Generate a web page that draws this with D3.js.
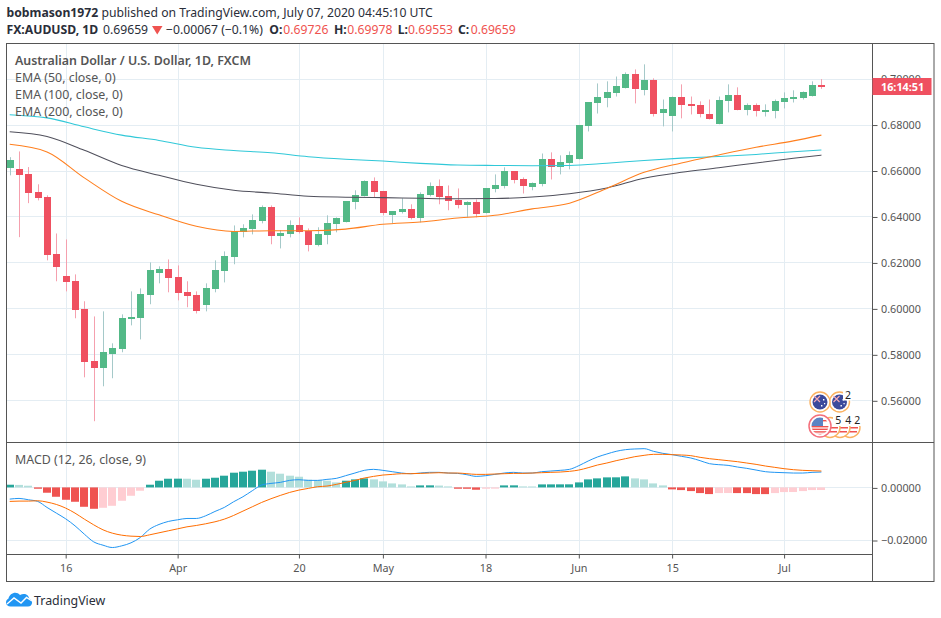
<!DOCTYPE html>
<html><head><meta charset="utf-8">
<script src="https://cdn.jsdelivr.net/npm/d3@7/dist/d3.min.js"></script>
<style>
html,body{margin:0;padding:0;background:#fff}
svg{display:block}
text{font-family:"Noto Sans",sans-serif}
</style></head><body>
<div id="chart"></div>
<script>
const opens=[0.6611,0.6605,0.6583,0.6505,0.6483,0.6235,0.6139,0.6118,0.5996,0.5770,
0.5739,0.5800,0.5822,0.5952,0.5957,0.6057,0.6152,0.6170,0.6135,0.6070,
0.6057,0.6013,0.6083,0.6161,0.6222,0.6331,0.6344,0.6379,0.6440,0.6313,
0.6322,0.6361,0.6335,0.6274,0.6318,0.6366,0.6374,0.6461,0.6487,0.6553,
0.6509,0.6405,0.6418,0.6431,0.6392,0.6492,0.6531,0.6487,0.6470,0.6448,
0.6461,0.6413,0.6518,0.6531,0.6596,0.6561,0.6527,0.6540,0.6648,0.6614,
0.6631,0.6648,0.6792,0.6892,0.6914,0.6935,0.6957,0.7018,0.6953,0.6996,
0.6848,0.6835,0.6918,0.6888,0.6883,0.6848,0.6801,0.6901,0.6927,0.6862,
0.6883,0.6853,0.6857,0.6896,0.6909,0.6914,0.6922,0.69726];
const highs=[0.6658,0.6683,0.6615,0.6540,0.6492,0.6326,0.6300,0.6148,0.6031,0.5965,
0.5987,0.5848,0.5974,0.6074,0.6087,0.6200,0.6183,0.6213,0.6187,0.6118,
0.6074,0.6109,0.6209,0.6248,0.6361,0.6366,0.6409,0.6448,0.6448,0.6340,
0.6383,0.6396,0.6348,0.6353,0.6405,0.6396,0.6466,0.6514,0.6557,0.6570,
0.6509,0.6422,0.6479,0.6453,0.6505,0.6548,0.6561,0.6535,0.6522,0.6466,
0.6474,0.6522,0.6583,0.6614,0.6596,0.6570,0.6548,0.6674,0.6679,0.6666,
0.6683,0.6796,0.6896,0.6979,0.6988,0.7009,0.7027,0.7040,0.7062,0.7001,
0.6909,0.6922,0.6975,0.6922,0.6901,0.6909,0.6922,0.6975,0.6962,0.6892,
0.6892,0.6888,0.6909,0.6940,0.6949,0.6944,0.6988,0.69978];
const lows=[0.6579,0.6310,0.6458,0.6470,0.6209,0.6118,0.6074,0.5957,0.5700,0.5509,
0.5661,0.5696,0.5809,0.5926,0.5865,0.6018,0.6109,0.6070,0.6035,0.6005,
0.5978,0.5987,0.6070,0.6113,0.6192,0.6309,0.6322,0.6370,0.6279,0.6261,
0.6309,0.6326,0.6248,0.6270,0.6279,0.6331,0.6374,0.6431,0.6487,0.6483,
0.6405,0.6370,0.6413,0.6387,0.6374,0.6487,0.6453,0.6427,0.6435,0.6396,
0.6396,0.6413,0.6505,0.6522,0.6544,0.6500,0.6514,0.6531,0.6561,0.6583,
0.6605,0.6648,0.6770,0.6848,0.6875,0.6922,0.6957,0.6892,0.6927,0.6835,
0.6792,0.6770,0.6827,0.6844,0.6831,0.6822,0.6801,0.6853,0.6862,0.6840,
0.6835,0.6835,0.6827,0.6870,0.6896,0.6909,0.6922,0.69553];
const closes=[0.6644,0.6579,0.6502,0.6479,0.6231,0.6179,0.6113,0.5992,0.5765,0.5739,
0.5809,0.5826,0.5957,0.5961,0.6061,0.6166,0.6170,0.6131,0.6065,0.6052,
0.5987,0.6087,0.6166,0.6226,0.6335,0.6348,0.6383,0.6440,0.6313,0.6326,
0.6361,0.6331,0.6274,0.6322,0.6370,0.6392,0.6466,0.6492,0.6553,0.6505,
0.6413,0.6422,0.6431,0.6392,0.6496,0.6531,0.6483,0.6466,0.6448,0.6461,
0.6409,0.6522,0.6535,0.6596,0.6557,0.6531,0.6544,0.6648,0.6614,0.6635,
0.6666,0.6796,0.6896,0.6918,0.6940,0.6966,0.7018,0.6953,0.6996,0.6848,
0.6866,0.6918,0.6883,0.6879,0.6844,0.6827,0.6905,0.6927,0.6862,0.6883,
0.6857,0.6862,0.6901,0.6914,0.6918,0.6940,0.6970,0.69659];

const emaBars=[0,4,8,12,16,20,24,28,32,36,40,44,48,52,56,60,64,68,72,76,80,84,87];
const ema200=[0.6843,0.6829,0.6790,0.6754,0.6731,0.6701,0.6687,0.6677,0.6660,0.6649,0.6641,0.6631,0.6624,0.6622,0.6621,0.6622,0.6632,0.6644,0.6654,0.6661,0.6670,0.6682,0.6689];
const ema100=[0.6769,0.6748,0.6688,0.6622,0.6579,0.6540,0.6514,0.6502,0.6488,0.6484,0.6482,0.6479,0.6477,0.6478,0.6485,0.6499,0.6524,0.6566,0.6592,0.6612,0.6633,0.6653,0.6667];
const ema50=[0.6714,0.6681,0.6568,0.6466,0.6407,0.6357,0.6335,0.6338,0.6338,0.6345,0.6366,0.6376,0.6393,0.6405,0.6433,0.6458,0.6522,0.6592,0.6633,0.6668,0.6701,0.6729,0.6754];

const macdHist=[102,95,64,-51,-203,-356,-470,-546,-737,-813,-775,-699,-508,-318,-127,102,254,330,332,330,292,330,368,445,559,597,635,673,597,521,445,406,292,279,254,190,254,305,343,305,229,152,114,38,76,78,70,38,-51,-52,-89,-51,-48,76,78,38,36,114,115,116,117,190,305,343,381,383,419,343,305,152,76,-76,-102,-140,-216,-254,-216,-214,-216,-217,-254,-255,-216,-178,-176,-140,-102,-100].map(v=>v/1e5);
const macdLine=[-445,-419,-470,-533,-762,-978,-1194,-1461,-1778,-2070,-2197,-2286,-2223,-2108,-1905,-1588,-1410,-1295,-1232,-1181,-1181,-1080,-914,-762,-546,-356,-127,89,152,191,267,292,267,267,305,343,445,546,648,686,648,597,546,521,546,572,572,546,533,483,419,445,495,546,572,546,546,597,622,648,686,826,1003,1156,1270,1372,1435,1461,1473,1372,1295,1245,1181,1118,1016,902,864,838,775,724,660,597,572,559,546,546,572,584].map(v=>v/1e5);
const signalLine=[-533,-521,-521,-508,-559,-648,-787,-978,-1207,-1422,-1613,-1740,-1816,-1854,-1867,-1803,-1727,-1651,-1575,-1499,-1448,-1384,-1308,-1207,-1067,-902,-737,-572,-432,-305,-191,-102,-38,25,51,114,191,267,356,419,470,495,521,521,533,546,559,546,546,521,495,495,508,521,533,533,546,559,572,584,610,660,749,851,927,1016,1092,1168,1219,1257,1257,1245,1232,1207,1143,1092,1054,1016,978,927,876,813,762,711,673,648,635,622].map(v=>v/1e5);

const timeTickBars=[6,18,31,40,51,61,71,83];
const timeTickLabels=["16","Apr","20","May","18","Jun","15","Jul"];
const priceTicks=[0.56,0.58,0.60,0.62,0.64,0.66,0.68,0.70];
const macdTicks=[0,-0.02];
const legendLabels=["EMA (50, close, 0)","EMA (100, close, 0)","EMA (200, close, 0)"];
const ohlcLabels=["O:","H:","L:","C:"];
const ohlcValues=["0.69726","0.69978","0.69553","0.69659"];

const W=941,H=618,L=6.5,R=872.5,RO=934,T=43,P=442,M=554,B=581;
const C={up:"#53b987",down:"#ef5060",upW:"#a5c9c9",downW:"#f5a0ae",grid:"#e4edf3",frame:"#555",txt:"#555",
 e50:"#ff7f1e",e100:"#50505c",e200:"#30c8d8",mBlue:"#2196f3",mOr:"#ff6d00"};

const svg=d3.select("#chart").append("svg").attr("width",W).attr("height",H);
const x=d3.scaleLinear().domain([0,87]).range([9.7,821.4]);
const y=d3.scaleLinear().domain([0.56,0.70]).range([400.3,78.6]);
const ym=d3.scaleLinear().domain([-0.02,0]).range([540,487.4]);
const px=v=>Math.round(v)+.5;

// grid
const g=svg.append("g").attr("stroke",C.grid).attr("stroke-width",1);
g.selectAll(".gv").data(timeTickBars).join("line").attr("x1",d=>px(x(d))).attr("x2",d=>px(x(d))).attr("y1",T).attr("y2",M);
g.selectAll(".gp").data(priceTicks).join("line").attr("x1",L).attr("x2",R).attr("y1",d=>px(y(d))).attr("y2",d=>px(y(d)));
g.selectAll(".gm").data(macdTicks).join("line").attr("x1",L).attr("x2",R).attr("y1",d=>px(ym(d))).attr("y2",d=>px(ym(d)));

// candles
const bars=d3.range(opens.length);
const cg=svg.append("g");
cg.selectAll(".w").data(bars).join("line").attr("stroke-width",1)
 .attr("stroke",i=>closes[i]>=opens[i]?C.upW:C.downW)
 .attr("x1",i=>Math.round(x(i))+.5).attr("x2",i=>Math.round(x(i))+.5)
 .attr("y1",i=>y(highs[i])).attr("y2",i=>y(lows[i]));
cg.selectAll(".b").data(bars).join("rect")
 .attr("fill",i=>closes[i]>=opens[i]?C.up:C.down)
 .attr("x",i=>Math.round(x(i))-3).attr("width",7)
 .attr("y",i=>Math.round(y(Math.max(opens[i],closes[i]))))
 .attr("height",i=>Math.max(2,Math.round(Math.abs(y(opens[i])-y(closes[i])))));

// EMA
const eLine=d3.line().x(d=>x(d[0])).y(d=>y(d[1])).curve(d3.curveMonotoneX);
[[ema200,C.e200],[ema100,C.e100],[ema50,C.e50]].forEach(([s,c])=>{
 svg.append("path").attr("fill","none").attr("stroke",c).attr("stroke-width",1.05)
  .attr("d",eLine(emaBars.map((b,i)=>[b,s[i]])));
});

// MACD histogram
const histColor=i=>{const v=macdHist[i],r=i===0||v>=macdHist[i-1];return v>=0?(r?"#26a69a":"#b2dfdb"):(r?"#ffcdd2":"#ef5350");};
svg.append("g").selectAll("rect").data(bars).join("rect")
 .attr("fill",histColor)
 .attr("x",i=>Math.round(x(i))-4).attr("width",8)
 .attr("y",i=>Math.min(ym(0),ym(macdHist[i])))
 .attr("height",i=>Math.abs(ym(macdHist[i])-ym(0)));
const mLine=d3.line().x((d,i)=>x(i)).y(d=>ym(d)).curve(d3.curveMonotoneX);
svg.append("path").attr("fill","none").attr("stroke",C.mBlue).attr("stroke-width",1).attr("d",mLine(macdLine));
svg.append("path").attr("fill","none").attr("stroke",C.mOr).attr("stroke-width",1).attr("d",mLine(signalLine));

// frame
const fr=svg.append("g").attr("stroke",C.frame).attr("stroke-width",1).attr("fill","none");
fr.append("rect").attr("x",L).attr("y",T+.5).attr("width",RO-L).attr("height",B-T);
[[L,RO,P+.5,P+.5],[L,R,M+.5,M+.5],[R,R,T,B]].forEach(l=>fr.append("line").attr("x1",l[0]).attr("x2",l[1]).attr("y1",l[2]).attr("y2",l[3]));

// axes
function styleAxis(a){a.select(".domain").remove();a.selectAll("line").attr("stroke",C.frame);
 a.selectAll("text").attr("fill",C.txt).style("font-size","10.8px").style("font-family",'"Noto Sans",sans-serif');}
svg.append("g").attr("transform",`translate(${R},0.5)`)
 .call(d3.axisRight(y).tickValues(priceTicks).tickSize(5).tickPadding(3.5).tickFormat(d3.format(".5f"))).call(styleAxis);
svg.append("g").attr("transform",`translate(${R},0.5)`)
 .call(d3.axisRight(ym).tickValues(macdTicks).tickSize(5).tickPadding(3.5).tickFormat(d3.format(".5f"))).call(styleAxis);
svg.append("g").attr("transform",`translate(0,${M+.5})`)
 .call(d3.axisBottom(x).tickValues(timeTickBars).tickSize(4).tickPadding(6).tickFormat(d=>timeTickLabels[timeTickBars.indexOf(d)])).call(styleAxis);

// price label
svg.append("rect").attr("x",R).attr("y",78).attr("width",59).attr("height",17).attr("fill","#ef5060");
svg.append("text").attr("x",881).attr("y",90.5).attr("fill","#fff").attr("font-size",10.8).attr("font-weight",700).text("16:14:51");

// header
const HF=12.2;
const t1=svg.append("text").attr("x",6.5).attr("y",17).attr("font-size",HF).attr("fill","#2a2e39");
t1.append("tspan").attr("font-weight",700).text("bobmason1972");
t1.append("tspan").text(" published on TradingView.com, July 07, 2020 04:45:10 UTC");
const line2=(xp,s,w,c)=>svg.append("text").attr("x",xp).attr("y",33.5).attr("font-size",HF).attr("font-weight",w||400).attr("fill",c||"#2a2e39").text(s);
line2(6.5,"FX:AUDUSD, 1D",700);
line2(103,"0.69659");
svg.append("path").attr("fill","#ef5350").attr("d","M152 26 h10.5 l-5.25 8.5 z");
line2(166,"−0.00067 (−0.1%)");
[[269.3,283.3],[334,347.3],[397.7,408],[458,470.7]].forEach(([a,b],i)=>{
 line2(a,ohlcLabels[i],700); line2(b,ohlcValues[i],400,"#ef5350");
});

// legends
svg.append("text").attr("x",15).attr("y",65).attr("font-size",12.4).attr("font-weight",600).attr("fill","#555").text("Australian Dollar / U.S. Dollar, 1D, FXCM");
legendLabels.forEach((s,i)=>svg.append("text").attr("x",15).attr("y",82+i*17).attr("font-size",12.4).attr("fill","#555").text(s));
svg.append("text").attr("x",15).attr("y",464).attr("font-size",12.4).attr("fill","#555").text("MACD (12, 26, close, 9)");

// event marks
const defs=svg.append("defs");
const marks=svg.append("g");
[850,840,830].forEach(cx=>{
 marks.append("circle").attr("cx",cx).attr("cy",427.5).attr("r",10).attr("fill","#fff").attr("stroke","#fbb261").attr("stroke-width",1.4);
 marks.append("path").attr("d",`M${cx-8} 427 h16 v1.6 h-16z M${cx-7} 431 h14 v1.6 h-14z`).attr("fill","#ef5350");
});
marks.append("rect").attr("x",833).attr("y",414).attr("width",28).attr("height",12).attr("fill","#fff");
[[839.5,402],[820,402]].forEach(([cx,cy])=>{
 marks.append("circle").attr("cx",cx).attr("cy",cy).attr("r",10).attr("fill","#fff").attr("stroke","#fbb261").attr("stroke-width",1.4);
 marks.append("circle").attr("cx",cx).attr("cy",cy).attr("r",7.5).attr("fill","#3b4a9c");
 marks.append("path").attr("d",`M${cx-6} ${cy-6} l6 6 m0 -6 l-6 6`).attr("stroke","#f0a8b8").attr("stroke-width",1.2);
 marks.append("path").attr("d",`M${cx+3} ${cy-3} h1.4 v1.4 h-1.4z M${cx+1} ${cy+3} h1.4 v1.4 h-1.4z M${cx+4} ${cy+1} h1.2 v1.2 h-1.2z`).attr("fill","#fff");
});
marks.append("rect").attr("x",843).attr("y",390).attr("width",9).attr("height",10.5).attr("fill","#fff");
defs.append("clipPath").attr("id","us").append("circle").attr("cx",820).attr("cy",426).attr("r",8.5);
const us=marks.append("g");
us.append("circle").attr("cx",820).attr("cy",426).attr("r",11).attr("fill","#fff").attr("stroke","#f4707c").attr("stroke-width",1.5);
const usf=us.append("g").attr("clip-path","url(#us)");
usf.append("rect").attr("x",811).attr("y",417).attr("width",18).attr("height",18).attr("fill","#fff");
d3.range(4).forEach(i=>usf.append("rect").attr("x",811).attr("y",426+i*2.6).attr("width",18).attr("height",1.4).attr("fill","#ef5350"));
usf.append("rect").attr("x",811).attr("y",417).attr("width",12).attr("height",9).attr("fill","#5b84c4");
usf.append("rect").attr("x",823).attr("y",420).attr("width",6).attr("height",1.4).attr("fill","#ef5350");
[[848,399,"2"],[838.3,423.5,"5"],[848.3,423.5,"4"],[857.3,423.5,"2"]].forEach(([a,b,s])=>marks.append("text").attr("x",a).attr("y",b).attr("text-anchor","middle").attr("font-size",10.5).attr("fill","#222").text(s));

// logo
const logo=svg.append("g");
logo.append("path").attr("fill","#2196f3").attr("d","M10.5 606.5 C5.5 606.5 4.5 600.5 8.5 598.5 C9.5 593 16.5 590.5 20 595 C24 592.5 29 594.5 29 598.5 C33.5 599.5 33 606.5 28 606.5 Z");
logo.append("path").attr("fill","none").attr("stroke","#fff").attr("stroke-width",1.4).attr("d","M7 604 L14 598 L21 603 L26.5 597.5 L32 601");
svg.append("text").attr("x",34).attr("y",605).attr("font-size",12.4).attr("fill","#2a2e39").text("TradingView");
</script>
</body></html>
